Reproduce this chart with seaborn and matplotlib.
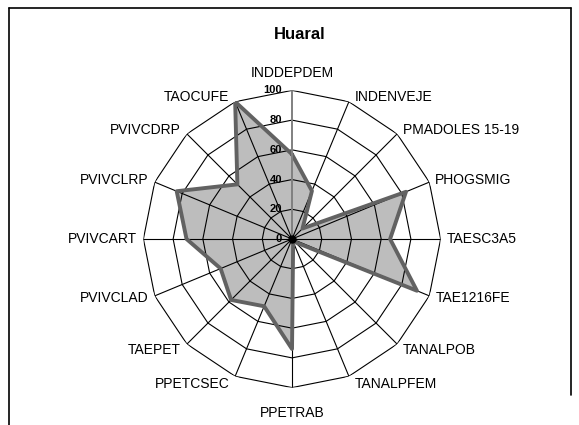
import numpy as np
import matplotlib
matplotlib.use("Agg")
import matplotlib.pyplot as plt
from matplotlib.lines import Line2D
import seaborn as sns

# datos
categorias = ["INDDEPDEM", "INDENVEJE", "PMADOLES 15-19", "PHOGSMIG", "TAESC3A5",
              "TAE1216FE", "TANALPOB", "TANALPFEM", "PPETRAB", "PPETCSEC", "TAEPET",
              "PVIVCLAD", "PVIVCART", "PVIVCLRP", "PVIVCDRP", "TAOCUFE"]
valores = [57, 35, 10, 83, 66, 91, 3, 2, 74, 49, 58, 52, 71, 84, 52, 100]
anillos = [0, 20, 40, 60, 80, 100]
titulo = "Huaral"

sns.set_theme(style="white")
plt.rcParams['font.family'] = ['Liberation Sans', 'DejaVu Sans']
plt.rcParams['text.color'] = 'black'

n = len(categorias)
theta = np.arange(n) * 2 * np.pi / n
theta_c = np.append(theta, 2 * np.pi)
val_c = np.append(valores, valores[0])

fig = plt.figure(figsize=(5.79, 4.25), dpi=100)
ax = fig.add_axes([0.2477, 0.088, 0.5133, 0.6993], projection='polar')
ax.set_theta_zero_location('N')
ax.set_theta_direction(-1)
ax.set_ylim(0, 100)
ax.grid(False)
ax.spines['polar'].set_visible(False)
ax.set_xticks([])
ax.set_yticks([])
ax.patch.set_alpha(0)

# relleno
ax.fill(theta_c, val_c, color='#bdbdbd', zorder=1, lw=0)

# rejilla poligonal
for r in anillos[1:]:
    ax.plot(theta_c, [r] * (n + 1), color='black', lw=0.8, zorder=2)
for i, t in enumerate(theta):
    if i == 0:
        continue
    ax.plot([t, t], [0, 100], color='black', lw=0.8, zorder=2)

# contorno de la serie
sns.lineplot(x=theta_c, y=val_c, sort=False, ax=ax, color='#626262', lw=2.8, zorder=3)
ax.set_xlabel('')
ax.set_ylabel('')

# eje de valores
ax.plot([0, 0], [0, 100], color='#808080', lw=1.4, zorder=4)
ax.plot([0], [0], marker='o', color='black', ms=5, zorder=5)

for r in anillos:
    ax.annotate(str(r), xy=(0, r), xytext=(-10, 0), textcoords='offset pixels',
                ha='right', va='center', fontsize=8, fontweight='bold',
                color='black', zorder=6)

# etiquetas de categorias
for t, lab in zip(theta, categorias):
    s, c = np.sin(t), np.cos(t)
    if abs(s) < 1e-6:
        ha = 'center'
        off = (0, 10) if c > 0 else (0, -18)
        va = 'bottom' if c > 0 else 'top'
    else:
        ha = 'left' if s > 0 else 'right'
        dy = 5 * c if c > -0.5 else 8 * c
        off = (6 * np.sign(s), dy)
        va = 'center'
    ax.annotate(lab, xy=(t, 100), xytext=off, textcoords='offset pixels',
                ha=ha, va=va, fontsize=10, color='black', annotation_clip=False)

fig.text(0.518, 0.918, titulo, ha='center', va='center', fontsize=12,
         fontweight='bold', color='black')

# marco
x0, x1 = 8.5 / 579, 571 / 579
y0 = 1 - 7.5 / 425
fig.add_artist(Line2D([x0, x0], [0, y0], color='black', lw=1.2))
fig.add_artist(Line2D([x0, x1], [y0, y0], color='black', lw=1.2))
fig.add_artist(Line2D([x1, x1], [1 - 395 / 425, y0], color='black', lw=1.2))

fig.savefig('out.png', dpi=100)
